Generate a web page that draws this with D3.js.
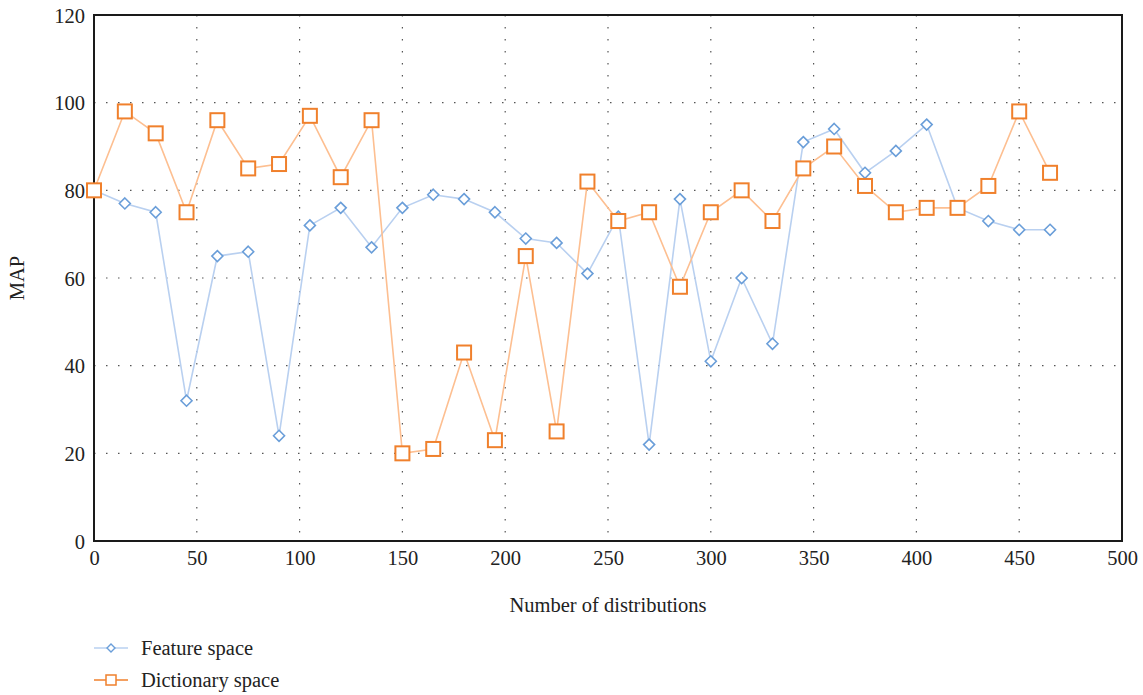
<!DOCTYPE html>
<html>
<head>
<meta charset="utf-8">
<script src="https://cdn.jsdelivr.net/npm/d3@7"></script>
<style>
  body { margin: 0; background: #fff; }
  text { font-family: "Liberation Serif", "DejaVu Serif", serif; fill: #222; }
</style>
</head>
<body>
<script>
// number of distributions (x values)
const distributions = [0, 15, 30, 45, 60, 75, 90, 105, 120, 135, 150, 165, 180, 195, 210, 225,
    240, 255, 270, 285, 300, 315, 330, 345, 360, 375, 390, 405, 420, 435, 450, 465];
const featureSpace = [80, 77, 75, 32, 65, 66, 24, 72, 76, 67, 76, 79, 78, 75, 69, 68,
    61, 74, 22, 78, 41, 60, 45, 91, 94, 84, 89, 95, 76, 73, 71, 71];
const dictionarySpace = [80, 98, 93, 75, 96, 85, 86, 97, 83, 96, 20, 21, 43, 23, 65, 25,
    82, 73, 75, 58, 75, 80, 73, 85, 90, 81, 75, 76, 76, 81, 98, 84];
const xTicks = [0, 50, 100, 150, 200, 250, 300, 350, 400, 450, 500];
const yTicks = [0, 20, 40, 60, 80, 100, 120];
const seriesNames = ["Feature space", "Dictionary space"];

const W = 1143, H = 695;
const margin = {top: 15, right: 21, left: 94, bottom: 154};
const width = W - margin.left - margin.right,
      height = H - margin.top - margin.bottom;
const fontSize = "20.5px";

const x = d3.scaleLinear().domain([0, 500]).range([0, width]);
const y = d3.scaleLinear().domain([0, 120]).range([height, 0]);

const svg = d3.select("body").append("svg")
    .attr("width", W)
    .attr("height", H);
const g = svg.append("g")
    .attr("transform", "translate(" + margin.left + "," + margin.top + ")");

// dotted grid
g.selectAll("line.vgrid")
    .data(xTicks.filter(d => d > 0 && d < 500))
    .enter().append("line")
    .attr("x1", d => x(d)).attr("x2", d => x(d))
    .attr("y1", 0).attr("y2", height)
    .attr("stroke", "#555")
    .attr("stroke-width", 1.2)
    .attr("stroke-dasharray", "1.5,10.5");
g.selectAll("line.hgrid")
    .data(yTicks.filter(d => d > 0 && d < 120))
    .enter().append("line")
    .attr("x1", 0).attr("x2", width)
    .attr("y1", d => y(d)).attr("y2", d => y(d))
    .attr("stroke", "#555")
    .attr("stroke-width", 1.2)
    .attr("stroke-dasharray", "1.5,10.5");

// axes (labels only, no tick marks)
const xAxis = g.append("g")
    .attr("transform", "translate(0," + height + ")")
    .call(d3.axisBottom(x).tickValues(xTicks).tickSize(0).tickPadding(9));
const yAxis = g.append("g")
    .call(d3.axisLeft(y).tickValues(yTicks).tickSize(0).tickPadding(9));
[xAxis, yAxis].forEach(a => {
    a.select(".domain").remove();
    a.selectAll("text")
        .style("font-family", "'Liberation Serif', 'DejaVu Serif', serif")
        .style("font-size", fontSize)
        .attr("fill", "#222");
});
yAxis.selectAll("text").attr("dy", "0.35em");

// frame
g.append("rect")
    .attr("width", width).attr("height", height)
    .attr("fill", "none")
    .attr("stroke", "#1a1a1a")
    .attr("stroke-width", 2);

const series = [
    {name: seriesNames[0], values: featureSpace, line: "#b9d0f0", mark: "#6a9ed9", shape: "diamond"},
    {name: seriesNames[1], values: dictionarySpace, line: "#fdbf91", mark: "#f0802c", shape: "square"}
];

const lineGen = (vals) => d3.line()
    .x((d, i) => x(distributions[i]))
    .y(d => y(d))(vals);

function drawMarker(sel, s) {
    if (s.shape === "square") {
        sel.append("rect")
            .attr("x", -7).attr("y", -7)
            .attr("width", 14).attr("height", 14)
            .attr("fill", "#fff")
            .attr("stroke", s.mark)
            .attr("stroke-width", 2);
    } else {
        sel.append("path")
            .attr("d", "M0,-5.5L5.5,0L0,5.5L-5.5,0Z")
            .attr("fill", "#fff")
            .attr("stroke", s.mark)
            .attr("stroke-width", 1.6);
    }
}

series.forEach(s => {
    g.append("path")
        .attr("d", lineGen(s.values))
        .attr("fill", "none")
        .attr("stroke", s.line)
        .attr("stroke-width", 1.6);
});
series.forEach(s => {
    g.selectAll(null)
        .data(s.values)
        .enter().append("g")
        .attr("transform", (d, i) => "translate(" + x(distributions[i]) + "," + y(d) + ")")
        .each(function() { drawMarker(d3.select(this), s); });
});

// axis titles
svg.append("text")
    .attr("text-anchor", "middle")
    .attr("x", margin.left + width / 2)
    .attr("y", 612)
    .style("font-size", fontSize)
    .text("Number of distributions");
svg.append("text")
    .attr("transform", "translate(24," + (margin.top + height / 2) + ") rotate(-90)")
    .attr("text-anchor", "middle")
    .style("font-size", fontSize)
    .text("MAP");

// legend
const legend = svg.append("g").attr("transform", "translate(94,648)");
series.forEach((s, i) => {
    const row = legend.append("g").attr("transform", "translate(0," + (i * 32) + ")");
    row.append("line")
        .attr("x1", 0).attr("x2", 34)
        .attr("stroke", s.shape === "square" ? s.mark : s.line)
        .attr("stroke-width", 1.6);
    const m = row.append("g").attr("transform", "translate(17,0)");
    if (s.shape === "square") {
        m.append("rect").attr("x", -5).attr("y", -5).attr("width", 10).attr("height", 10)
            .attr("fill", "#fff").attr("stroke", s.mark).attr("stroke-width", 1.5);
    } else {
        m.append("path").attr("d", "M0,-4L4,0L0,4L-4,0Z")
            .attr("fill", "#fff").attr("stroke", s.mark).attr("stroke-width", 1.4);
    }
    row.append("text")
        .attr("x", 47).attr("dy", "0.35em")
        .style("font-size", fontSize)
        .text(s.name);
});
</script>
</body>
</html>
